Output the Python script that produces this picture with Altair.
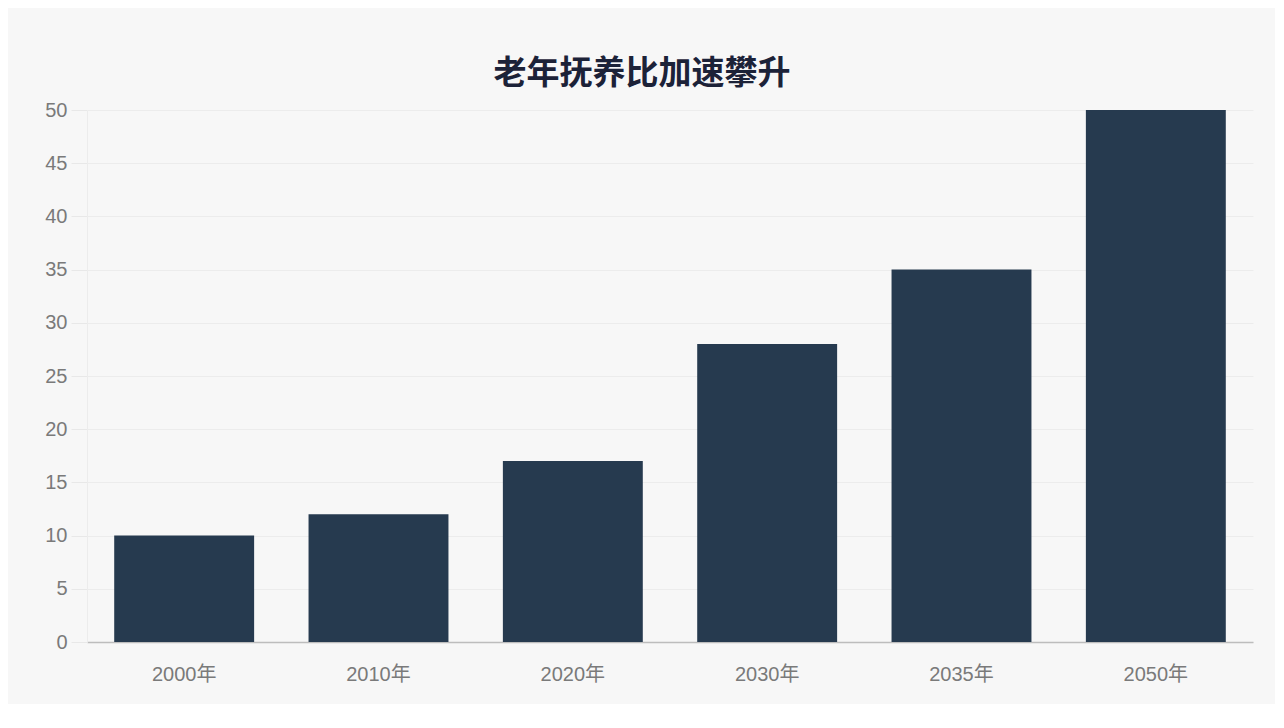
import altair as alt
import pandas as pd

years = ["2000年", "2010年", "2020年", "2030年", "2035年", "2050年"]
ratios = [10, 12, 17, 28, 35, 50]

df = pd.DataFrame({"year": years, "ratio": ratios})

font = "Liberation Sans, Noto Sans CJK SC, sans-serif"

chart = alt.Chart(df).mark_bar(color="#263a4f").encode(
    x=alt.X("year:N", sort=years, title=None,
            scale=alt.Scale(paddingInner=0.28, paddingOuter=0.14),
            axis=alt.Axis(labelAngle=0, ticks=False, labelPadding=22,
                          labelFontSize=20, labelColor="#7a7a7a", labelFont=font,
                          domainColor="#bdbdbd", domainWidth=1.5, grid=False)),
    y=alt.Y("ratio:Q", title=None,
            scale=alt.Scale(domain=[0, 50]),
            axis=alt.Axis(values=list(range(0, 55, 5)), tickSize=16, tickColor="#e8e8e8",
                          labelPadding=4, labelFontSize=20, labelColor="#7a7a7a", labelFont=font,
                          domainColor="#ececec", gridColor="#ececec", gridWidth=1)),
).properties(
    width=1166,
    height=532,
    background="#f7f7f7",
    padding={"left": 36, "top": 50, "right": 22, "bottom": 20},
    title=alt.Title("老年抚养比加速攀升", fontSize=33, fontWeight="bold",
                    color="#1c2238", font=font, offset=9, anchor="middle", dx=-28),
).configure_view(stroke=None)

chart.save("out.html", embed_options={"renderer": "svg", "actions": False})
